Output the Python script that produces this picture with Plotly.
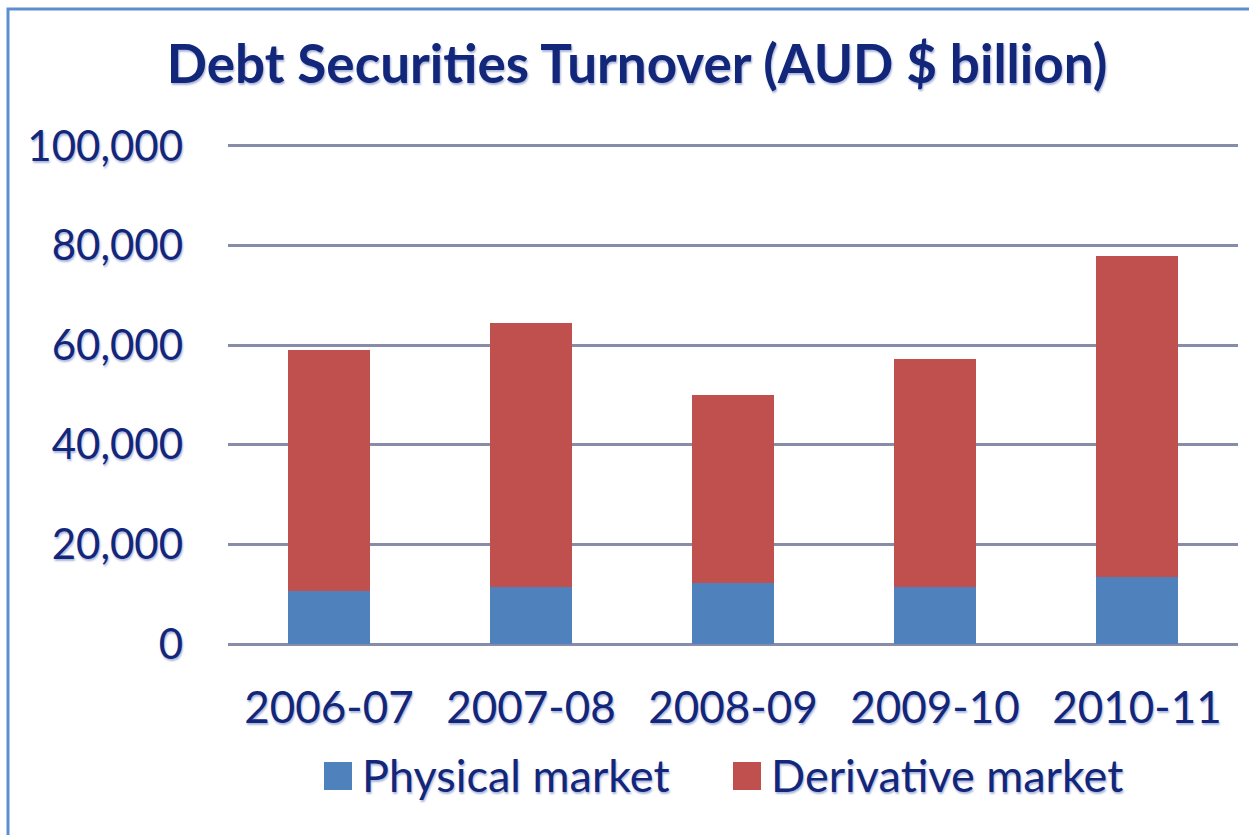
import plotly.graph_objects as go

# Debt securities turnover by financial year, AUD $ billion
years = ["2006-07", "2007-08", "2008-09", "2009-10", "2010-11"]
physical = [10600, 11400, 12200, 11400, 13400]
derivative = [48500, 53100, 37800, 45900, 64500]
y_ticks = [0, 20000, 40000, 60000, 80000, 100000]
series_names = ["Physical market", "Derivative market"]
series_colors = ["#4f81bd", "#c0504d"]

NAVY = "#12267a"
SHADOW = "1px 2px 2px rgba(70,90,170,0.45)"
FONT = "Lato"

fig = go.Figure()
for name, vals, col in zip(series_names, [physical, derivative], series_colors):
    fig.add_trace(go.Bar(name=name, x=years, y=vals,
                         marker=dict(color=col, line=dict(width=0))))

W, H = 1249, 835
Y_MAX = 102000
L, R, B = 228, 11, 191
ph = round(498 * Y_MAX / 100000)
T = H - B - ph
pw = W - L - R


def px_x(x):
    return (x - L) / pw


def px_y(y):
    return (H - B - y) / ph


fig.update_layout(
    width=W, height=H,
    barmode="stack", bargap=0.595, showlegend=False,
    margin=dict(l=L, r=R, t=T, b=B, autoexpand=False),
    paper_bgcolor="white", plot_bgcolor="white",
    font=dict(family=FONT, color=NAVY),
    title=dict(text="<b>Debt Securities Turnover (AUD $ billion)</b>",
               x=px_x(637), xref="paper", xanchor="center",
               y=1 - 64 / H, yref="container", yanchor="middle",
               font=dict(family=FONT, size=53, color=NAVY, shadow=SHADOW)),
    xaxis=dict(type="category", showgrid=False, showline=False, ticks="",
               tickfont=dict(family=FONT, size=44, color=NAVY, shadow=SHADOW),
               ticklabelstandoff=34),
    yaxis=dict(range=[0, Y_MAX], tickvals=y_ticks, tickformat=",d",
               showgrid=True, gridcolor="#878ca8", gridwidth=2.5,
               zeroline=True, zerolinecolor="#878ca8", zerolinewidth=2.5,
               showline=False, ticks="",
               tickfont=dict(family=FONT, size=42, color=NAVY, shadow=SHADOW),
               ticklabelstandoff=44),
    modebar=dict(remove=["toImage", "zoom2d", "pan2d", "select2d", "lasso2d",
                         "zoomIn2d", "zoomOut2d", "autoScale2d", "resetScale2d"]),
)

# Legend: colour squares followed by the series names
legend_sq_left = [324, 733]
for x0, name, col in zip(legend_sq_left, series_names, series_colors):
    fig.add_shape(type="rect", xref="paper", yref="paper",
                  x0=px_x(x0), x1=px_x(x0 + 28), y0=px_y(790), y1=px_y(762),
                  fillcolor=col, line=dict(width=0))
    fig.add_annotation(text=name, xref="paper", yref="paper",
                       x=px_x(x0 + 36), y=px_y(775), xanchor="left",
                       yanchor="middle", showarrow=False,
                       font=dict(family=FONT, size=45, color=NAVY, shadow=SHADOW))

# Blue frame around the chart area (top and left edges fall inside the page)
fig.add_shape(type="rect", xref="paper", yref="paper",
              x0=px_x(8), x1=px_x(1262), y0=px_y(850), y1=px_y(9),
              line=dict(color="#5b8fd0", width=3), layer="below")

fig.write_html("out.html", config={"displayModeBar": False})
